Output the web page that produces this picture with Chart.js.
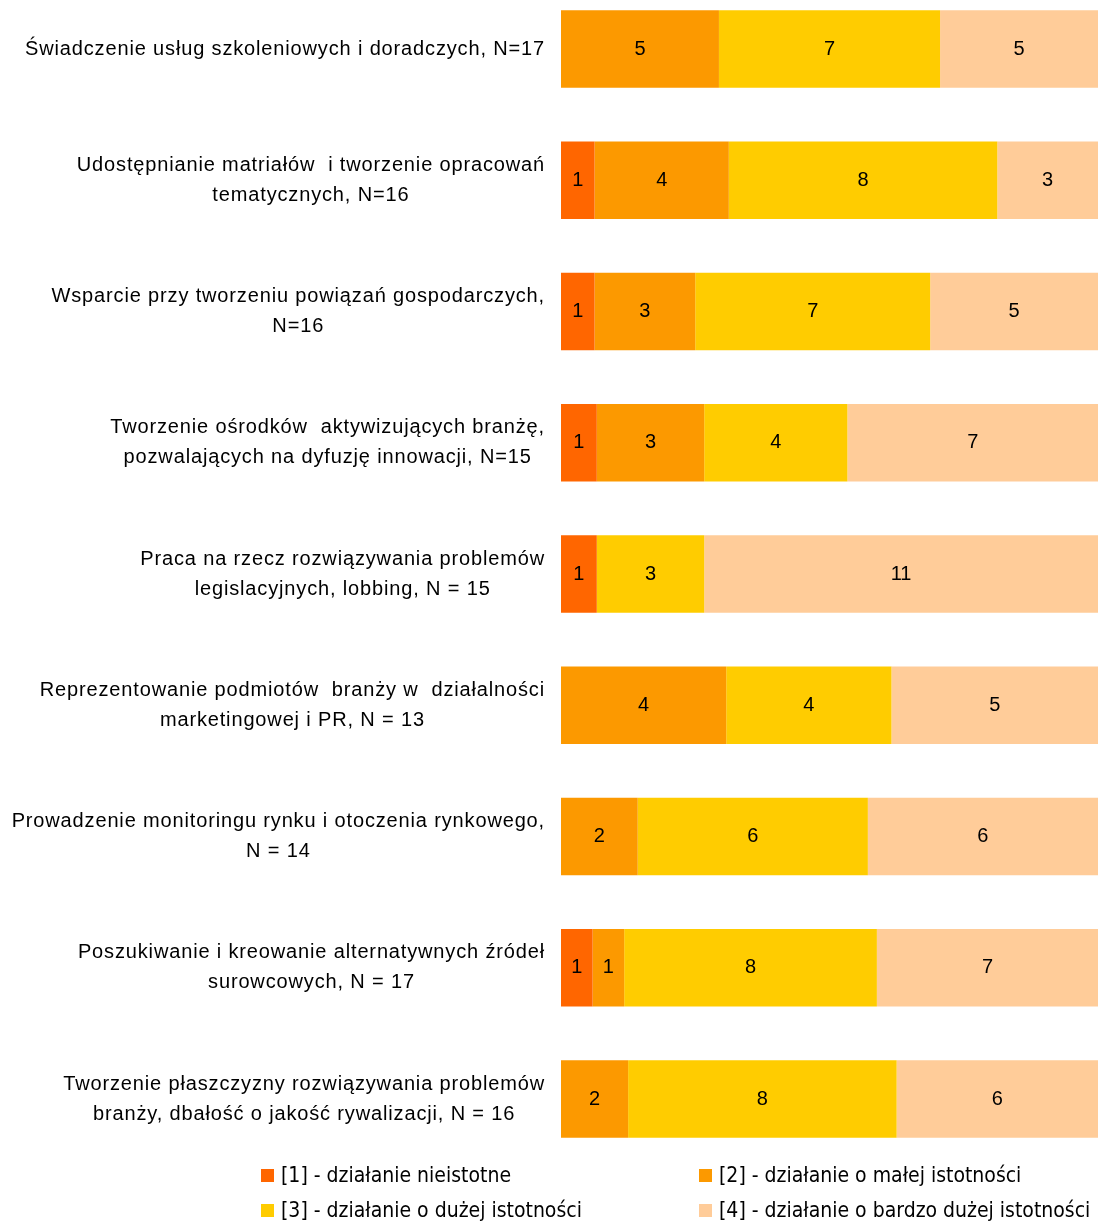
<!DOCTYPE html>
<html lang="pl">
<head>
<meta charset="utf-8">
<title>Istotność działań</title>
<script src="https://cdn.jsdelivr.net/npm/chart.js@4"></script>
<style>
    html, body { margin: 0; padding: 0; background: #fff; }
    #wrap { width: 1098px; height: 1223px; position: relative; }
</style>
</head>
<body>
<div id="wrap"><canvas id="dzialaniaChart"></canvas></div>
<script>
// kategorie (linie etykiet)
const categories = [
    ['Świadczenie usług szkoleniowych i doradczych, N=17'],
    ['Udostępnianie matriałów  i tworzenie opracowań', 'tematycznych, N=16'],
    ['Wsparcie przy tworzeniu powiązań gospodarczych,', 'N=16'],
    ['Tworzenie ośrodków  aktywizujących branżę,', 'pozwalających na dyfuzję innowacji, N=15'],
    ['Praca na rzecz rozwiązywania problemów', 'legislacyjnych, lobbing, N = 15'],
    ['Reprezentowanie podmiotów  branży w  działalności', 'marketingowej i PR, N = 13'],
    ['Prowadzenie monitoringu rynku i otoczenia rynkowego,', 'N = 14'],
    ['Poszukiwanie i kreowanie alternatywnych źródeł', 'surowcowych, N = 17'],
    ['Tworzenie płaszczyzny rozwiązywania problemów', 'branży, dbałość o jakość rywalizacji, N = 16']
];

// liczba odpowiedzi w każdej kategorii
const ocena1 = [0, 1, 1, 1, 1, 0, 0, 1, 0];
const ocena2 = [5, 4, 3, 3, 0, 4, 2, 1, 2];
const ocena3 = [7, 8, 7, 4, 3, 4, 6, 8, 8];
const ocena4 = [5, 3, 5, 7, 11, 5, 6, 7, 6];

const seriesNames = [
    '[1] - działanie nieistotne',
    '[2] - działanie o małej istotności',
    '[3] - działanie o dużej istotności',
    '[4] - działanie o bardzo dużej istotności'
];
const seriesColors = ['#FF6600', '#FC9900', '#FFCC00', '#FFCC99'];

const counts = [ocena1, ocena2, ocena3, ocena4];
const totals = categories.map((_, i) => counts.reduce((s, arr) => s + arr[i], 0));

const datasets = counts.map((arr, k) => ({
    label: seriesNames[k],
    data: arr.map((v, i) => v / totals[i] * 100),
    counts: arr,
    backgroundColor: seriesColors[k],
    borderWidth: 0,
    barPercentage: 0.59,
    categoryPercentage: 1,
    clip: false
}));

const labelFont = '20px "Liberation Sans", Arial, sans-serif';
const valueFont = '20px "Liberation Sans", Arial, sans-serif';
const legendFont = '21px "DejaVu Sans Condensed", "Liberation Sans Narrow", sans-serif';

// etykiety kategorii: blok wyrównany do prawej, linie wyśrodkowane
const categoryLabels = {
    id: 'categoryLabels',
    afterDraw(chart) {
        const ctx = chart.ctx;
        const yScale = chart.scales.y;
        const right = chart.chartArea.left - 16;
        const lineH = 30;
        ctx.save();
        ctx.font = labelFont;
        ctx.letterSpacing = '0.85px';
        ctx.fillStyle = '#000';
        ctx.textAlign = 'center';
        ctx.textBaseline = 'middle';
        categories.forEach((lines, i) => {
            const maxW = Math.max(...lines.map(l => ctx.measureText(l).width));
            const cx = right - maxW / 2;
            const cy = yScale.getPixelForValue(i);
            const y0 = cy - (lines.length - 1) * lineH / 2;
            lines.forEach((l, j) => ctx.fillText(l, cx, y0 + j * lineH));
        });
        ctx.restore();
    }
};

// wartości na słupkach
const valueLabels = {
    id: 'valueLabels',
    afterDatasetsDraw(chart) {
        const ctx = chart.ctx;
        ctx.save();
        ctx.font = valueFont;
        ctx.fillStyle = '#000';
        ctx.textAlign = 'center';
        ctx.textBaseline = 'middle';
        chart.data.datasets.forEach((ds, k) => {
            chart.getDatasetMeta(k).data.forEach((bar, i) => {
                const v = ds.counts[i];
                if (!v) return;
                const p = bar.getCenterPoint();
                ctx.fillText(String(v), p.x, p.y);
            });
        });
        ctx.restore();
    }
};

// legenda w dwóch kolumnach
const gridLegend = {
    id: 'gridLegend',
    afterDraw(chart) {
        const ctx = chart.ctx;
        const cols = [261, 699];
        const rows = [1176, 1211];
        ctx.save();
        ctx.font = legendFont;
        ctx.textAlign = 'left';
        ctx.textBaseline = 'middle';
        seriesNames.forEach((name, k) => {
            const x = cols[k % 2];
            const y = rows[Math.floor(k / 2)];
            ctx.fillStyle = seriesColors[k];
            ctx.fillRect(x, y - 7, 13, 13);
            ctx.fillStyle = '#000';
            ctx.fillText(name, x + 20, y + 1);
        });
        ctx.restore();
    }
};

new Chart(document.getElementById('dzialaniaChart'), {
    type: 'bar',
    data: {
        labels: categories.map(l => l.join(' ')),
        datasets: datasets
    },
    options: {
        indexAxis: 'y',
        responsive: true,
        maintainAspectRatio: false,
        animation: false,
        layout: {
            padding: { left: 561, right: 0, top: 49, bottom: 124 }
        },
        scales: {
            x: {
                stacked: true,
                min: 0,
                max: 100,
                display: false
            },
            y: {
                stacked: true,
                offset: false,
                display: false,
                grid: { display: false }
            }
        },
        plugins: {
            legend: { display: false },
            tooltip: { enabled: false }
        }
    },
    plugins: [categoryLabels, valueLabels, gridLegend]
});
</script>
</body>
</html>
